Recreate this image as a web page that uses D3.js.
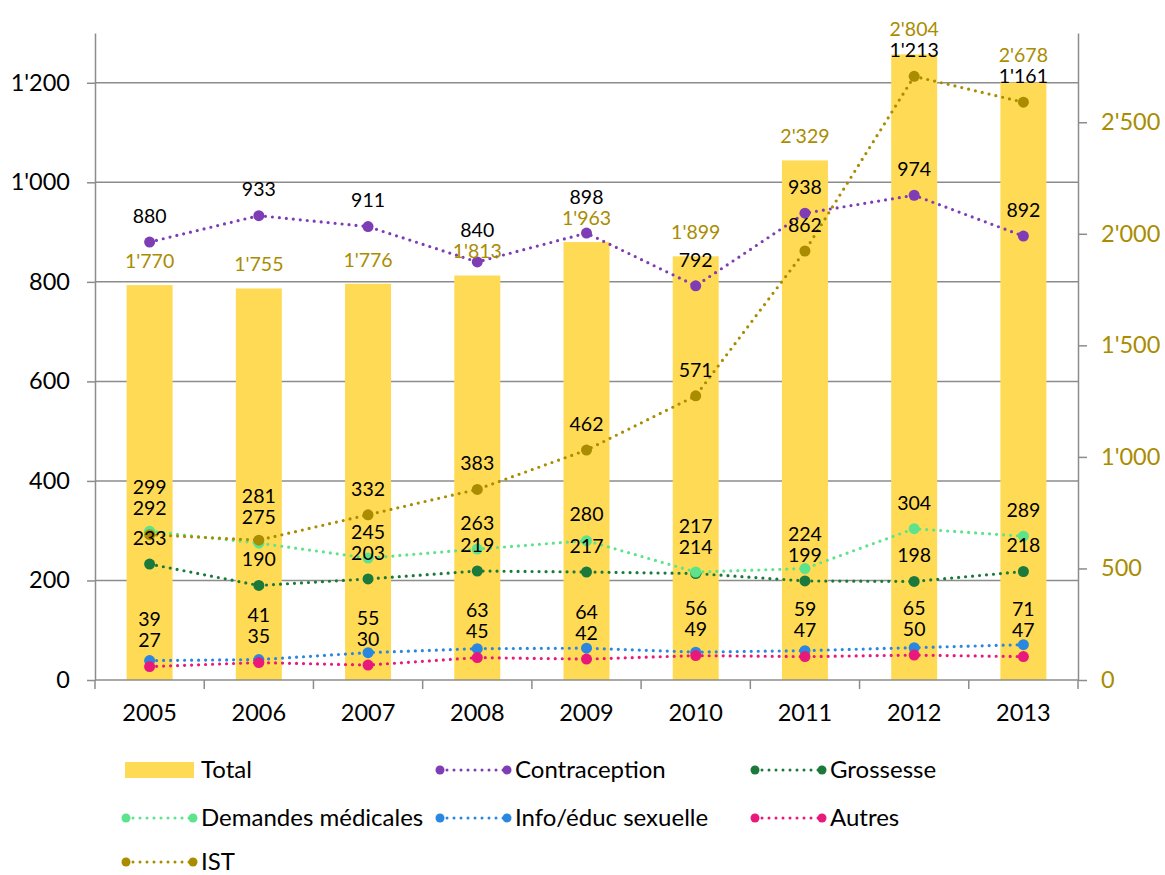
<!DOCTYPE html>
<html lang="fr">
<head>
<meta charset="utf-8">
<title>Consultations 2005-2013</title>
<script src="https://d3js.org/d3.v7.min.js"></script>
<style>
  body { margin: 0; background: #fff; }
  svg text { font-family: Lato, "Open Sans", sans-serif; }
</style>
</head>
<body>
<svg id="chart" width="1165" height="875"></svg>
<script>
// data
var years = ['2005', '2006', '2007', '2008', '2009', '2010', '2011', '2012', '2013'];
var total = [1770, 1755, 1776, 1813, 1963, 1899, 2329, 2804, 2678];
var contraception = [880, 933, 911, 840, 898, 792, 938, 974, 892];
var grossesse = [233, 190, 203, 219, 217, 214, 199, 198, 218];
var demandes = [299, 275, 245, 263, 280, 217, 224, 304, 289];
var info = [39, 41, 55, 63, 64, 56, 59, 65, 71];
var autres = [27, 35, 30, 45, 42, 49, 47, 50, 47];
var ist = [292, 281, 332, 383, 462, 571, 862, 1213, 1161];
var leftTicks = [0, 200, 400, 600, 800, 1000, 1200];
var rightTicks = [0, 500, 1000, 1500, 2000, 2500];

var series = [
  {name: 'Contraception', values: contraception, color: '#7E3DB4'},
  {name: 'Grossesse', values: grossesse, color: '#1B7A3B'},
  {name: 'Demandes médicales', values: demandes, color: '#5CE38B'},
  {name: 'Info/éduc sexuelle', values: info, color: '#2A87E0'},
  {name: 'Autres', values: autres, color: '#E8197B'},
  {name: 'IST', values: ist, color: '#A98C00'}
];
var barColor = '#FFDB55',
    olive = '#A98C00',
    gridColor = '#8C8C8C';

var fmt = d3.formatLocale({decimal: '.', thousands: "'", grouping: [3], currency: ['', '']}).format(',d');

var svg = d3.select('#chart'),
    margin = {top: 33, right: 87, bottom: 195, left: 95},
    width = 1165 - margin.left - margin.right,
    height = 875 - margin.top - margin.bottom;

var g = svg.append('g').attr('transform', 'translate(' + margin.left + ',' + margin.top + ')');

var xb = d3.scaleBand().domain(years).range([0, width]);
var y = d3.scaleLinear().domain([0, 1300]).range([height, 0]);
var y2 = d3.scaleLinear().domain([0, 2900]).range([height, 0]);

// gridlines
g.append('g').selectAll('line')
  .data(leftTicks.filter(function(d) { return d > 0; }))
  .enter().append('line')
    .attr('x1', 0).attr('x2', width)
    .attr('y1', function(d) { return y(d); }).attr('y2', function(d) { return y(d); })
    .attr('stroke', gridColor).attr('stroke-width', 1.5);

// bars (right axis)
g.selectAll('.bar')
  .data(total)
  .enter().append('rect')
    .attr('class', 'bar')
    .attr('x', function(d, i) { return xb(years[i]) + xb.bandwidth() / 2 - 23; })
    .attr('width', 46)
    .attr('y', function(d) { return y2(d); })
    .attr('height', function(d) { return height - y2(d); })
    .attr('fill', barColor);

// axes
var axisLeft = g.append('g')
  .call(d3.axisLeft(y).tickValues(leftTicks).tickSize(8).tickSizeOuter(0).tickPadding(17).tickFormat(fmt));
var axisRight = g.append('g')
  .attr('transform', 'translate(' + width + ',0)')
  .call(d3.axisRight(y2).tickValues(rightTicks).tickSize(9).tickSizeOuter(0).tickPadding(14).tickFormat(fmt));
var axisBottom = g.append('g')
  .attr('transform', 'translate(0,' + height + ')')
  .call(d3.axisBottom(xb).tickSize(0).tickPadding(24));

[axisLeft, axisRight, axisBottom].forEach(function(a) {
  a.select('.domain').attr('stroke', gridColor).attr('stroke-width', 1.5);
  a.selectAll('.tick line').attr('stroke', gridColor).attr('stroke-width', 1.5);
  a.selectAll('text').attr('font-size', 23.5).attr('fill', '#000');
});
axisRight.selectAll('text').attr('fill', olive);
axisBottom.select('.domain').attr('d', 'M0,0H' + width);

// category boundary ticks on x axis
axisBottom.selectAll('.sep')
  .data(years.concat(['end']))
  .enter().append('line')
    .attr('x1', function(d, i) { return i * xb.step(); })
    .attr('x2', function(d, i) { return i * xb.step(); })
    .attr('y1', 0).attr('y2', 9)
    .attr('stroke', gridColor).attr('stroke-width', 1.5);

// lines
var line = d3.line()
  .x(function(d, i) { return xb(years[i]) + xb.bandwidth() / 2; })
  .y(function(d) { return y(d); });

series.forEach(function(s) {
  g.append('path')
    .datum(s.values)
    .attr('d', line)
    .attr('fill', 'none')
    .attr('stroke', s.color)
    .attr('stroke-width', 3.2)
    .attr('stroke-linecap', 'round')
    .attr('stroke-dasharray', '0 7');
  g.selectAll(null)
    .data(s.values)
    .enter().append('circle')
      .attr('cx', function(d, i) { return xb(years[i]) + xb.bandwidth() / 2; })
      .attr('cy', function(d) { return y(d); })
      .attr('r', 5.5)
      .attr('fill', s.color);
});

// data labels: above each point, pushed up when they collide
years.forEach(function(yr, i) {
  var items = [{text: fmt(total[i]), anchor: y2(total[i]), want: y2(total[i]) - 24, color: olive}];
  series.forEach(function(s) {
    items.push({text: fmt(s.values[i]), anchor: y(s.values[i]), want: y(s.values[i]) - 26, color: '#000'});
  });
  items.sort(function(a, b) { return a.anchor - b.anchor; });
  for (var k = items.length - 1; k >= 0; k--) {
    items[k].pos = items[k].want;
    if (k < items.length - 1) items[k].pos = Math.min(items[k].want, items[k + 1].pos - 21);
  }
  var cx = xb(yr) + xb.bandwidth() / 2;
  items.forEach(function(it) {
    g.append('text')
      .attr('x', cx)
      .attr('y', it.pos)
      .attr('dy', '0.35em')
      .attr('text-anchor', 'middle')
      .attr('font-size', 19.5)
      .attr('fill', it.color)
      .text(it.text);
  });
});

// legend
var legendItems = [{name: 'Total', bar: true}].concat(series);
var colX = [125, 439, 754], rowY = [770, 818, 862];
var legend = svg.append('g');
legendItems.forEach(function(d, i) {
  var lx = colX[i % 3], ly = rowY[Math.floor(i / 3)];
  var item = legend.append('g').attr('transform', 'translate(' + lx + ',' + ly + ')');
  if (d.bar) {
    item.append('rect').attr('x', 0).attr('y', -8).attr('width', 69).attr('height', 16).attr('fill', barColor);
  } else {
    item.append('line').attr('x1', 1).attr('x2', 68).attr('y1', 0).attr('y2', 0)
      .attr('stroke', d.color).attr('stroke-width', 3)
      .attr('stroke-linecap', 'round').attr('stroke-dasharray', '0 7');
    item.selectAll('circle').data([1, 68]).enter().append('circle')
      .attr('cx', function(c) { return c; }).attr('cy', 0).attr('r', 4.5).attr('fill', d.color);
  }
  item.append('text')
    .attr('x', 76).attr('y', 0).attr('dy', '0.35em')
    .attr('font-size', 24).attr('fill', '#000')
    .text(d.name);
});
</script>
</body>
</html>
